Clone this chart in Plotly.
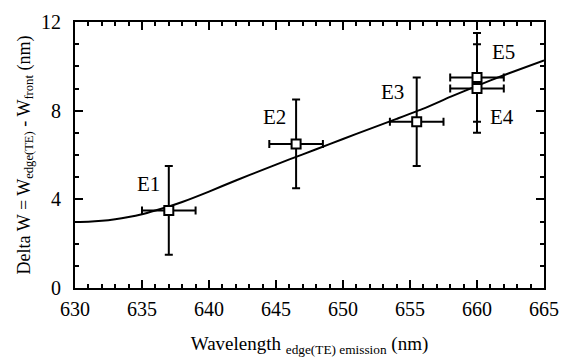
import plotly.graph_objects as go

# Data points
labels = ["E1", "E2", "E3", "E4", "E5"]
wl = [637.0, 646.5, 655.5, 660.0, 660.0]
dw = [3.5, 6.5, 7.5, 9.0, 9.5]
wl_err = [2.0, 2.0, 2.0, 2.0, 2.0]
dw_err = [2.0, 2.0, 2.0, 2.0, 2.0]

# Fitted curve
curve_x = [630, 631, 632, 633, 634, 635, 636, 637, 638, 640, 642, 644, 646, 648, 650, 652, 654, 656, 658, 660, 662, 665]
curve_y = [2.98, 2.99, 3.03, 3.1, 3.2, 3.33, 3.5, 3.68, 3.88, 4.35, 4.85, 5.33, 5.8, 6.26, 6.72, 7.18, 7.63, 8.09, 8.62, 9.12, 9.6, 10.27]

# Label positions
label_x = [635.45, 644.9, 653.7, 661.9, 662.0]
label_y = [4.7, 7.7, 8.84, 7.72, 10.66]

FONT = "Liberation Serif"

fig = go.Figure()
fig.add_trace(go.Scatter(
    x=curve_x, y=curve_y, mode="lines",
    line=dict(color="black", width=2, shape="spline", smoothing=0.5),
    hoverinfo="skip", showlegend=False))
fig.add_trace(go.Scatter(
    x=wl, y=dw, mode="markers",
    marker=dict(symbol="square", size=9, color="white", line=dict(color="black", width=2)),
    error_x=dict(type="data", array=wl_err, color="black", thickness=2, width=4),
    error_y=dict(type="data", array=dw_err, color="black", thickness=2, width=4),
    showlegend=False))

for lx, ly, t in zip(label_x, label_y, labels):
    fig.add_annotation(x=lx, y=ly, text=t, showarrow=False,
                       font=dict(family=FONT, size=21, color="black"))

axis_common = dict(
    showline=True, linecolor="black", linewidth=2, mirror="ticks",
    ticks="inside", ticklen=8, tickwidth=2, tickcolor="black",
    showgrid=False, zeroline=False, automargin=False,
    tickfont=dict(family=FONT, size=20, color="black"),
)

fig.update_xaxes(range=[630, 665], tickvals=[630, 635, 640, 645, 650, 655, 660, 665],
                 minor=dict(dtick=1, ticks="inside", ticklen=4, tickwidth=1.5, tickcolor="black"),
                 ticklabelstandoff=2,
                 title=dict(text="Wavelength <sub>edge(TE) emission</sub> (nm)",
                            font=dict(family=FONT, size=19, color="black"), standoff=18),
                 **axis_common)
fig.update_yaxes(range=[0, 12], tickvals=[0, 4, 8, 12],
                 minor=dict(dtick=1, ticks="inside", ticklen=4, tickwidth=1.5, tickcolor="black"),
                 ticklabelstandoff=8,
                 title=dict(text="Delta W = W<sub>edge(TE)</sub> - W<sub>front</sub> (nm)",
                            font=dict(family=FONT, size=18, color="black"), standoff=6),
                 **axis_common)

fig.update_layout(
    width=569, height=358,
    margin=dict(l=75, r=25, t=22, b=70),
    paper_bgcolor="white", plot_bgcolor="white",
)

fig.write_html("out.html")
